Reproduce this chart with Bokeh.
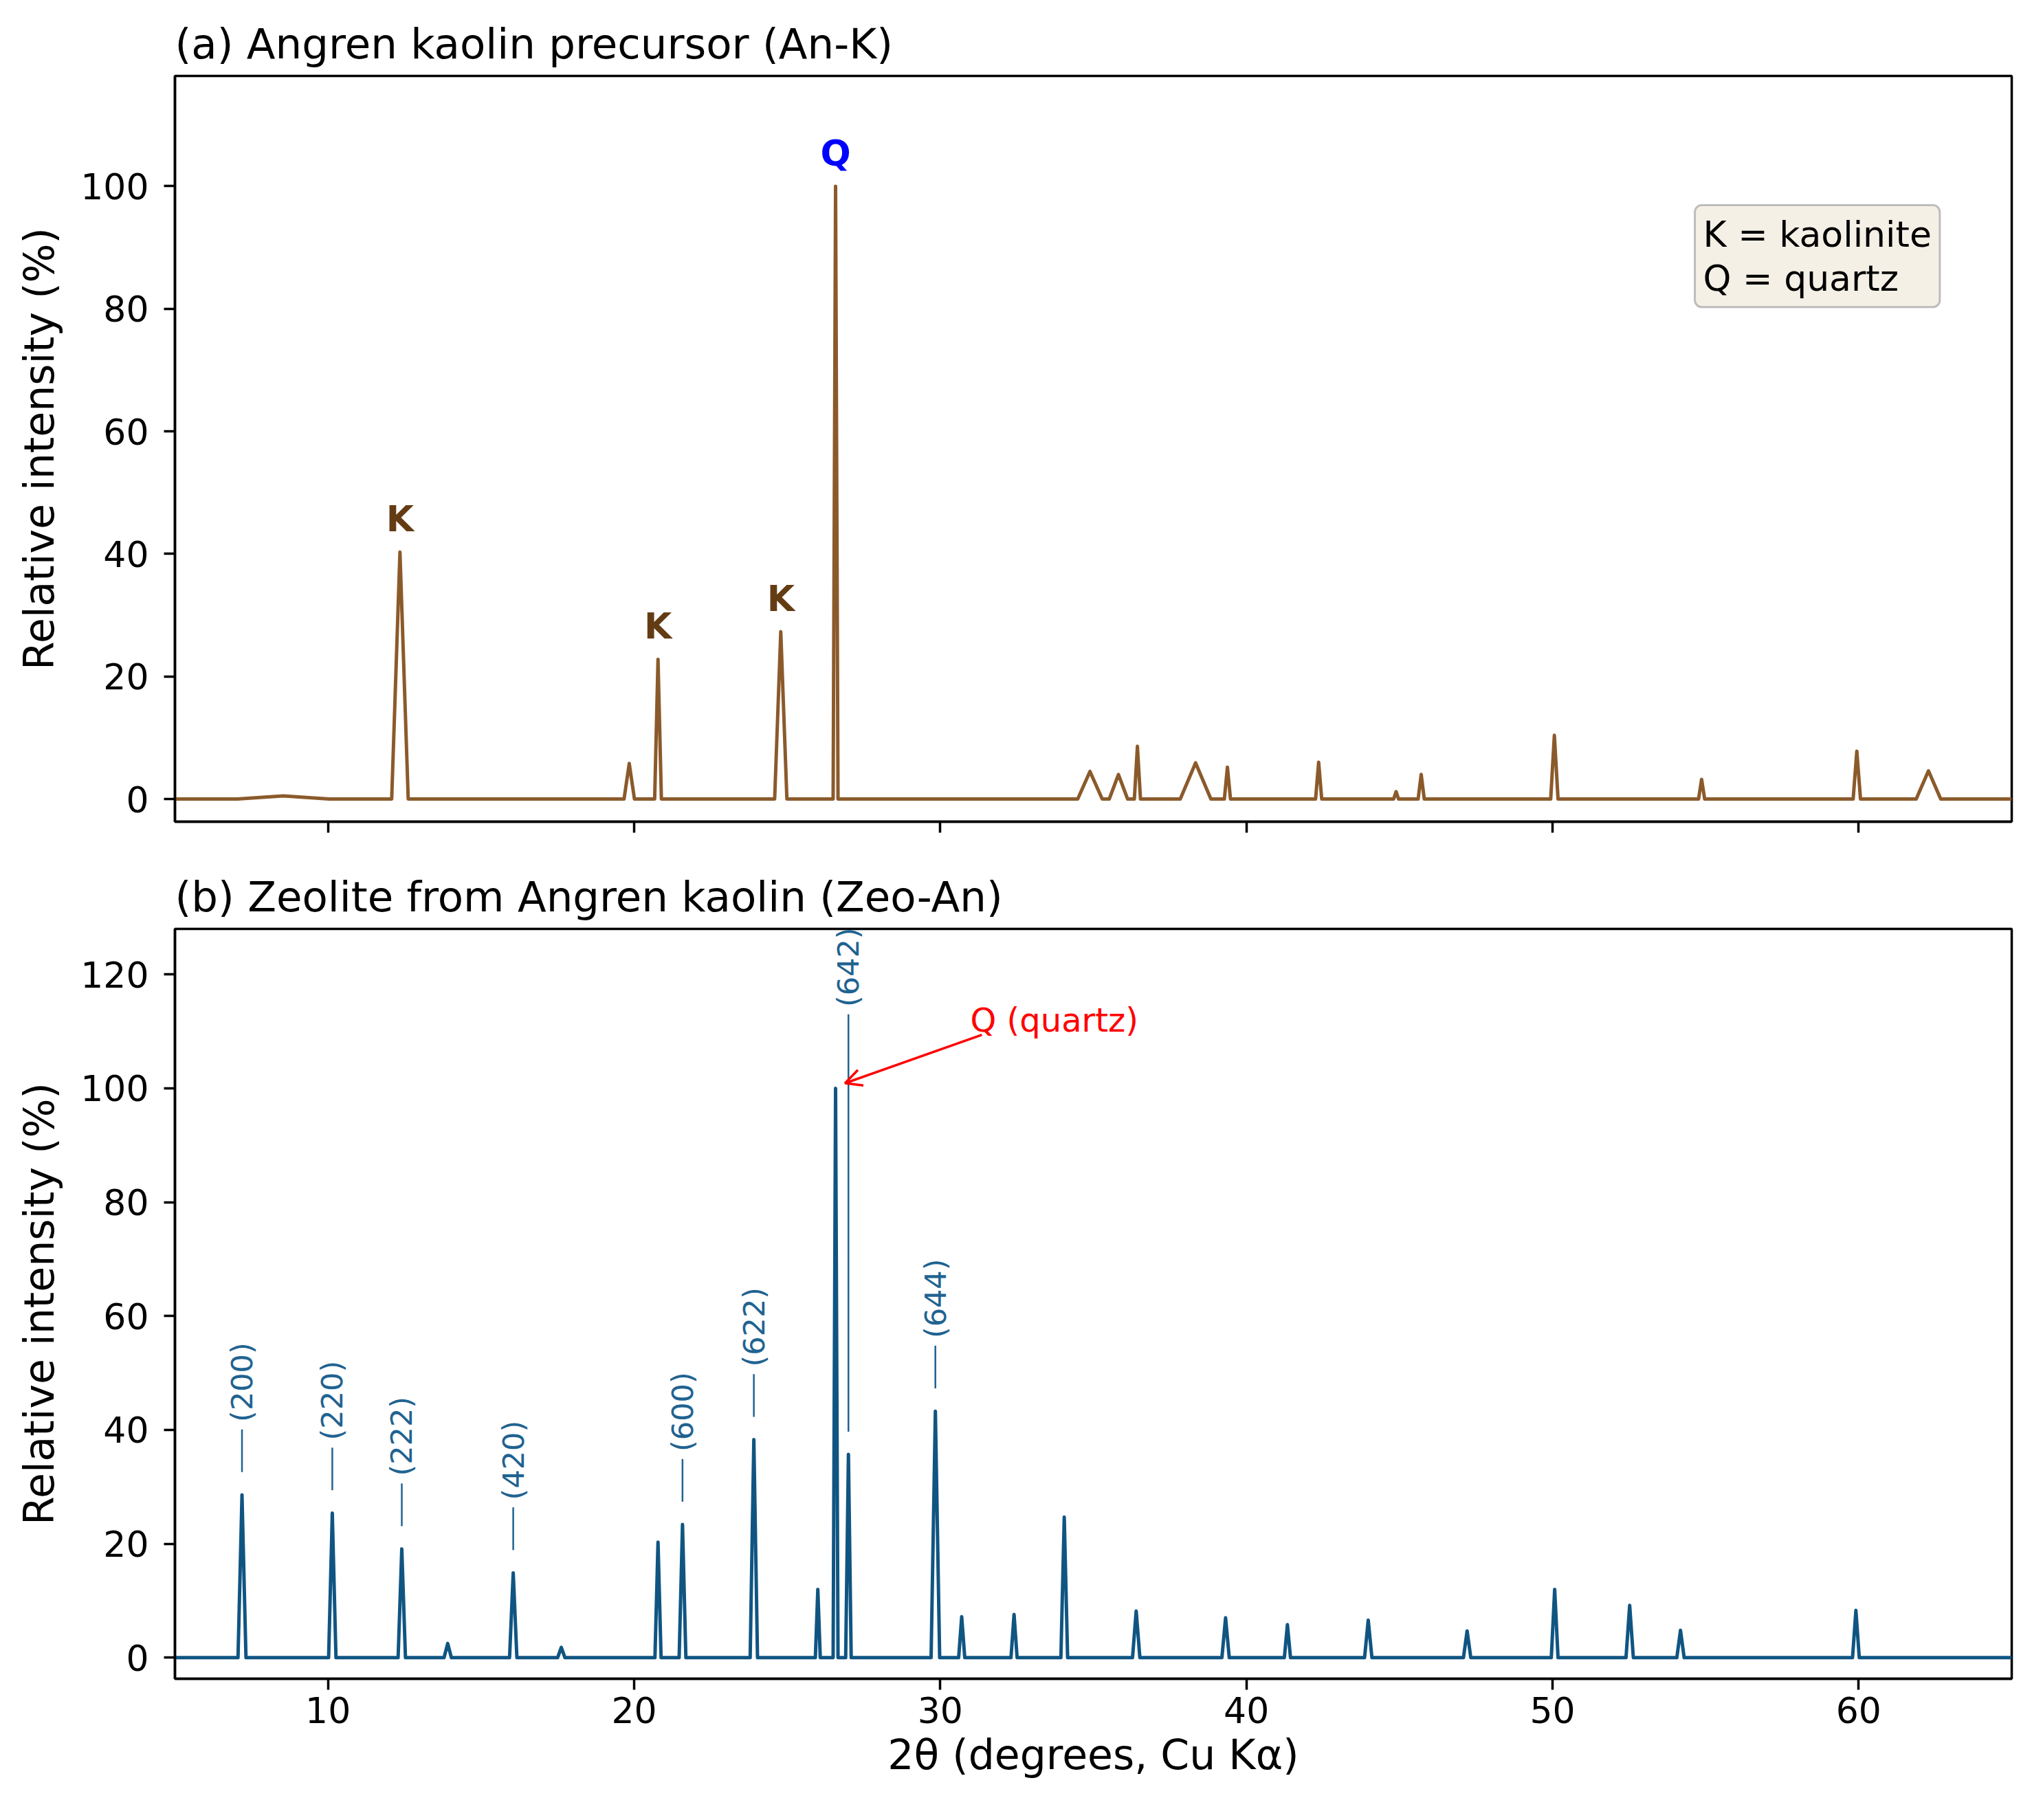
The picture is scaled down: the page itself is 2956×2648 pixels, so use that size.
import math
from bokeh.plotting import figure
from bokeh.models import (ColumnDataSource, FixedTicker, Label, Arrow,
                          OpenHead, Range1d, CustomJSTickFormatter)
from bokeh.core.properties import value
from bokeh.layouts import column
from bokeh.embed import file_html
from bokeh.resources import INLINE

FONT = "DejaVu Sans"

# (a) Angren kaolin precursor: peak centre (2theta), height (%), half base width (deg)
ank_pos = [8.54, 12.35, 19.84, 20.78, 24.79, 26.58, 34.89, 35.82, 36.44, 38.34,
           39.38, 42.36, 44.89, 45.71, 50.06, 54.87, 59.94, 62.28]
ank_height = [0.5, 40.3, 5.8, 22.8, 27.3, 100.0, 4.5, 4.0, 8.6, 5.9,
              5.2, 6.0, 1.2, 4.0, 10.4, 3.2, 7.8, 4.6]
ank_halfwidth = [1.5, 0.27, 0.17, 0.11, 0.2, 0.08, 0.4, 0.3, 0.1, 0.5,
                 0.1, 0.1, 0.08, 0.1, 0.12, 0.1, 0.12, 0.4]

# phase marks in (a)
mark_text = ["K", "K", "K", "Q"]
mark_pos = [12.35, 20.78, 24.79, 26.58]
mark_height = [40.3, 22.8, 27.3, 100.0]
mark_color = ["#643c14", "#643c14", "#643c14", "#0000ff"]

# (b) Zeolite from Angren kaolin
zeo_pos = [7.19, 10.14, 12.41, 13.91, 16.05, 17.62, 20.78, 21.58, 23.91, 26.0,
           26.58, 27.0, 29.84, 30.7, 32.41, 34.05, 36.40, 39.32, 41.34, 43.98,
           47.21, 50.07, 52.52, 54.18, 59.91]
zeo_height = [28.6, 25.4, 19.1, 2.5, 14.9, 1.8, 20.3, 23.4, 38.3, 12.0,
              100.0, 35.7, 43.3, 7.2, 7.6, 24.7, 8.2, 7.0, 5.8, 6.6,
              4.7, 12.0, 9.2, 4.8, 8.3]
zeo_halfwidth = [0.13, 0.12, 0.12, 0.12, 0.12, 0.12, 0.1, 0.11, 0.12, 0.08,
                 0.08, 0.09, 0.14, 0.1, 0.1, 0.11, 0.12, 0.12, 0.1, 0.12,
                 0.12, 0.11, 0.12, 0.12, 0.11]

hkl_text = ["(200)", "(220)", "(222)", "(420)", "(600)", "(622)", "(642)", "(644)"]
hkl_pos = [7.19, 10.14, 12.41, 16.05, 21.58, 23.91, 27.0, 29.84]
hkl_height = [28.6, 25.4, 19.1, 14.9, 23.4, 38.3, 35.7, 43.3]
hkl_raised = {"(642)": 113.0}   # label lifted above the quartz peak

x_ticks = [10, 20, 30, 40, 50, 60]


def profile(pos, height, hw):
    xs, ys = [5.0], [0.0]
    for c, h, w in sorted(zip(pos, height, hw)):
        xs += [c - w, c, c + w]
        ys += [0.0, h, 0.0]
    xs.append(65.0)
    ys.append(0.0)
    return xs, ys


def make_fig(title, y_end, y_ticks, frame_h, border_top, border_bottom):
    p = figure(frame_width=2672, frame_height=frame_h,
               x_range=Range1d(5, 65), y_range=Range1d(-3.7, y_end),
               output_backend="svg", toolbar_location=None,
               min_border_left=254, min_border_right=14,
               min_border_top=border_top, min_border_bottom=border_bottom)
    p.title.text = title
    p.title.align = "left"
    p.title.text_font = FONT
    p.title.text_font_size = "61px"
    p.title.text_font_style = "normal"
    p.title.text_color = "black"
    p.title.standoff = 24
    p.grid.visible = False
    p.outline_line_color = "black"
    p.outline_line_width = 3.5
    p.outline_line_alpha = 1.0
    for ax in (p.xaxis[0], p.yaxis[0]):
        ax.axis_line_width = 3.5
        ax.major_tick_line_width = 3.5
        ax.major_tick_out = 16
        ax.major_tick_in = 0
        ax.minor_tick_line_color = None
        ax.major_label_text_font = FONT
        ax.major_label_text_font_size = "52px"
        ax.major_label_text_color = "black"
        ax.axis_label_text_font = FONT
        ax.axis_label_text_font_size = "60px"
        ax.axis_label_text_font_style = "normal"
        ax.axis_label_text_color = "black"
    p.xaxis.ticker = FixedTicker(ticks=x_ticks)
    p.yaxis.ticker = FixedTicker(ticks=y_ticks)
    p.yaxis.axis_label = "Relative intensity (%)"
    p.yaxis.major_label_standoff = 22
    p.yaxis.axis_label_standoff = 22
    p.xaxis.major_label_standoff = 10
    return p


# ---- panel (a)
p1 = make_fig("(a) Angren kaolin precursor (An-K)", 118, [0, 20, 40, 60, 80, 100], 1085, 110, 58)
p1.xaxis.formatter = CustomJSTickFormatter(code="return ''")
xa, ya = profile(ank_pos, ank_height, ank_halfwidth)
p1.line(xa, ya, line_color="#8b5a2b", line_width=5, line_join="round")

marks = ColumnDataSource(dict(x=mark_pos, y=[h + 5.4 for h in mark_height],
                              text=mark_text, color=mark_color))
p1.text(x="x", y="y", text="text", source=marks, text_color="color",
        text_align="center", text_baseline="alphabetic",
        text_font=value(FONT), text_font_size="52px",
        text_font_style="bold")

legend_box = Label(x=54.65, y=96.9, text="K = kaolinite\nQ = quartz",
                   text_font=FONT, text_font_size="52px", text_color="black",
                   text_align="left", text_baseline="top", text_line_height=1.07,
                   background_fill_color="#f5f0e6", background_fill_alpha=1.0,
                   border_line_color="#bdbdbd", border_line_width=3,
                   padding=12, border_radius=10)
p1.add_layout(legend_box)

# ---- panel (b)
p2 = make_fig("(b) Zeolite from Angren kaolin (Zeo-An)", 128, [0, 20, 40, 60, 80, 100, 120], 1091, 98, 186)
p2.xaxis.axis_label = "2θ (degrees, Cu Kα)"
p2.xaxis.axis_label_standoff = 8
xb, yb = profile(zeo_pos, zeo_height, zeo_halfwidth)
p2.line(xb, yb, line_color="#105582", line_width=5, line_join="round")

stem_top = [hkl_raised.get(t, h + 11.5) for t, h in zip(hkl_text, hkl_height)]
hkl = ColumnDataSource(dict(x=hkl_pos, y0=[h + 4 for h in hkl_height], y1=stem_top,
                            ty=[s + 1.3 for s in stem_top], text=hkl_text))
p2.segment(x0="x", y0="y0", x1="x", y1="y1", source=hkl, line_color="#1f6391", line_width=2.5)
for t, x, ty in zip(hkl_text, hkl_pos, hkl.data["ty"]):
    p2.add_layout(Label(x=x, y=ty, text=t, angle=math.pi / 2,
                        text_align="left", text_baseline="middle", text_font=FONT,
                        text_font_size="43px", text_color="#1f6391"))

p2.add_layout(Arrow(end=OpenHead(size=24, line_color="red", line_width=3.5),
                    x_start=31.36, y_start=109.4, x_end=26.89, y_end=100.9,
                    line_color="red", line_width=3.5))
p2.add_layout(Label(x=30.98, y=112.0, text="Q (quartz)", text_font=FONT,
                    text_font_size="48px", text_color="red",
                    text_align="left", text_baseline="alphabetic"))

layout = column(p1, p2, spacing=0)
open("out.html", "w").write(file_html(layout, INLINE))
